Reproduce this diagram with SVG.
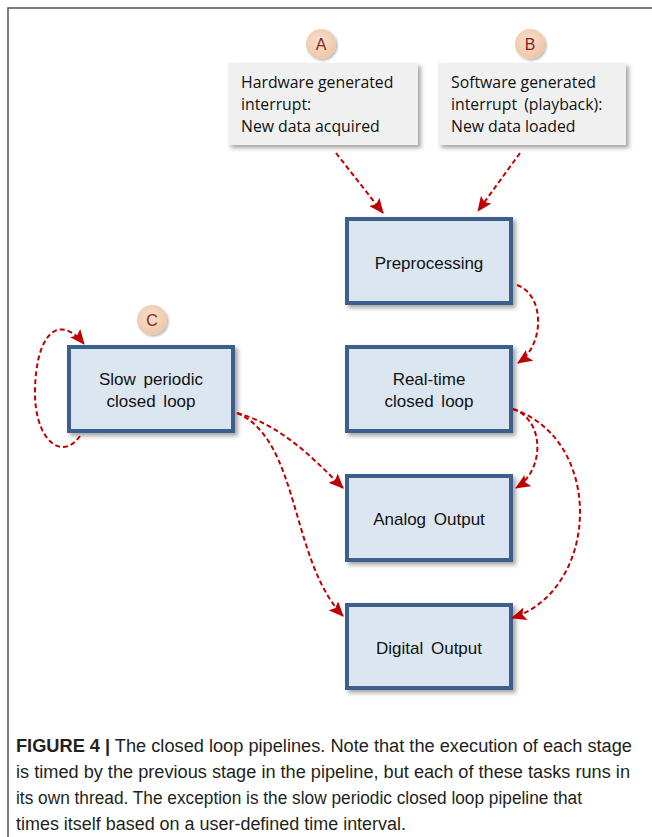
<svg xmlns="http://www.w3.org/2000/svg" width="652" height="837" viewBox="0 0 652 837">
<defs>
<filter id="sh" x="-20%" y="-20%" width="150%" height="150%">
<feDropShadow dx="3" dy="3" stdDeviation="2" flood-color="#000" flood-opacity="0.35"/>
</filter>
<filter id="shs" x="-20%" y="-20%" width="150%" height="150%">
<feDropShadow dx="1.5" dy="1.5" stdDeviation="1.2" flood-color="#000" flood-opacity="0.3"/>
</filter>
<radialGradient id="cg" cx="45%" cy="40%" r="60%">
<stop offset="0" stop-color="#f8dfcc"/>
<stop offset="1" stop-color="#efc6a8"/>
</radialGradient>
<marker id="ah" markerWidth="15" markerHeight="13" refX="14" refY="6.5" orient="auto" markerUnits="userSpaceOnUse">
<path d="M0,0 L15,6.5 L0,13 L3,6.5 Z" fill="#c00000"/>
</marker>
</defs>
<style>
.box{fill:#dce6f1;stroke:#3c5f8d;stroke-width:4}
.note{fill:#f0f0f0}
.bt{font-family:"Liberation Sans",Arial,sans-serif;font-size:17px;fill:#111;text-anchor:middle;word-spacing:3px}
.nt{font-family:"Open Sans","Noto Sans",sans-serif;font-size:15.8px;fill:#111}
.ct{font-family:"Liberation Sans",Arial,sans-serif;font-size:16px;fill:#8b2323;text-anchor:middle}
.con{fill:none;stroke:#c00000;stroke-width:2;stroke-dasharray:5,3;marker-end:url(#ah)}
.cap{font-family:"Liberation Sans",Arial,sans-serif;font-size:18px;fill:#231f20}
</style>
<rect width="652" height="837" fill="#fff"/>
<path d="M8,837 L8,8 L652,8" fill="none" stroke="#555" stroke-width="1.5"/>

<g id="circleA"><circle cx="321" cy="44" r="15" fill="url(#cg)" filter="url(#shs)"/><text class="ct" x="321" y="50">A</text></g>
<g id="circleB"><circle cx="530" cy="44" r="15" fill="url(#cg)" filter="url(#shs)"/><text class="ct" x="530" y="50">B</text></g>
<g id="circleC"><circle cx="152" cy="320" r="15" fill="url(#cg)" filter="url(#shs)"/><text class="ct" x="152" y="326">C</text></g>

<g id="hwInterrupt"><rect class="note" x="228" y="63" width="190" height="82" filter="url(#sh)"/>
<text class="nt" x="241" y="88">Hardware generated</text>
<text class="nt" x="241" y="110">interrupt:</text>
<text class="nt" x="241" y="132">New data acquired</text></g>

<g id="swInterrupt"><rect class="note" x="438" y="63" width="188" height="82" filter="url(#sh)"/>
<text class="nt" x="451" y="88">Software generated</text>
<text class="nt" x="451" y="110" word-spacing="3">interrupt (playback):</text>
<text class="nt" x="451" y="132">New data loaded</text></g>

<g id="preprocessing"><rect class="box" x="347" y="219" width="164" height="84" filter="url(#sh)"/>
<text class="bt" x="429" y="269">Preprocessing</text></g>

<g id="realtime"><rect class="box" x="347" y="347" width="164" height="84" filter="url(#sh)"/>
<text class="bt" x="429" y="385">Real-time</text>
<text class="bt" x="429" y="407">closed loop</text></g>

<g id="slowPeriodic"><rect class="box" x="69" y="347" width="164" height="84" filter="url(#sh)"/>
<text class="bt" x="151" y="385">Slow periodic</text>
<text class="bt" x="151" y="407">closed loop</text></g>

<g id="analogOutput"><rect class="box" x="347" y="476" width="164" height="84" filter="url(#sh)"/>
<text class="bt" x="429" y="525">Analog Output</text></g>

<g id="digitalOutput"><rect class="box" x="347" y="605" width="164" height="83" filter="url(#sh)"/>
<text class="bt" x="429" y="654">Digital Output</text></g>

<g id="connectors">
<path class="con" d="M336,153 L383,213"/>
<path class="con" d="M520,153 L478,211"/>
<path class="con" d="M517,285 C545,295 545,345 518,363"/>
<path class="con" d="M513,409 C545,420 545,470 516,488"/>
<path class="con" d="M513,409 C605,440 600,590 512,618"/>
<path class="con" d="M237,413 C280,425 310,455 343,488"/>
<path class="con" d="M237,413 C300,440 290,560 343,616"/>
<path class="con" d="M80,436 C62,462 34,440 35,390 C36,335 58,312 84,344"/>
</g>

<g id="caption">
<text class="cap" x="16" y="752" textLength="616" lengthAdjust="spacingAndGlyphs"><tspan font-weight="bold">FIGURE 4 |</tspan> The closed loop pipelines. Note that the execution of each stage</text>
<text class="cap" x="16" y="778" textLength="614" lengthAdjust="spacingAndGlyphs">is timed by the previous stage in the pipeline, but each of these tasks runs in</text>
<text class="cap" x="16" y="804" textLength="566" lengthAdjust="spacingAndGlyphs">its own thread. The exception is the slow periodic closed loop pipeline that</text>
<text class="cap" x="16" y="830" textLength="390" lengthAdjust="spacingAndGlyphs">times itself based on a user-defined time interval.</text>
</g>
</svg>
